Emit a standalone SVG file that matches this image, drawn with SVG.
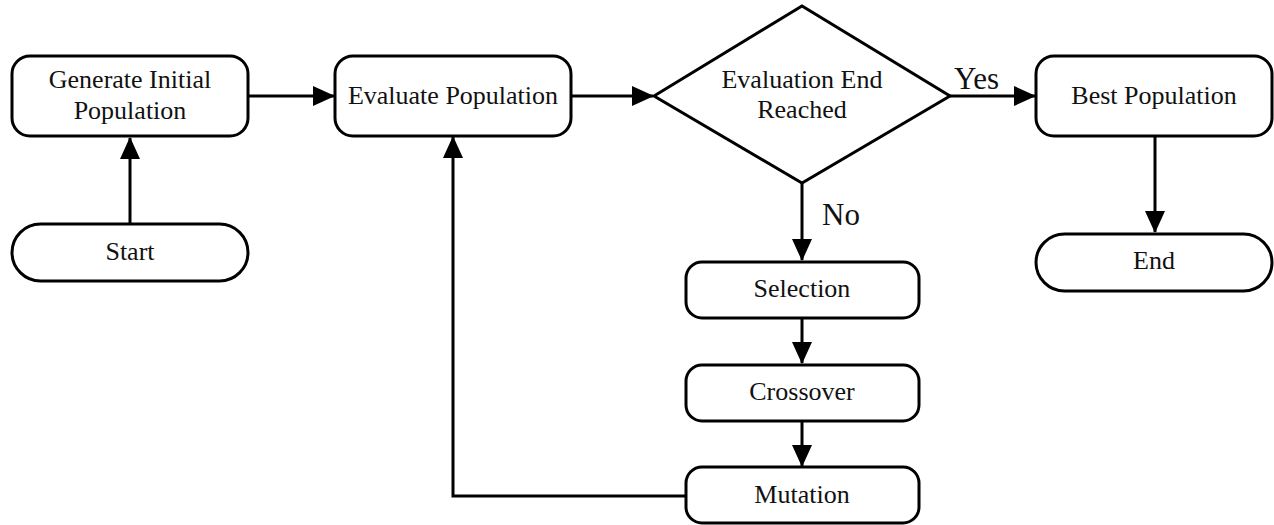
<svg xmlns="http://www.w3.org/2000/svg" width="1274" height="525" viewBox="0 0 1274 525">
<style>
.box{fill:#fff;stroke:#000;stroke-width:3}
.t{font-family:'Liberation Serif','DejaVu Serif',serif;font-size:26px;fill:#111;text-anchor:middle}
.lbl{font-family:'Liberation Serif','DejaVu Serif',serif;font-size:31px;fill:#111}
.c{fill:none;stroke:#000;stroke-width:3}
</style>
<defs>
<marker id="ah" markerUnits="userSpaceOnUse" markerWidth="22" markerHeight="20" refX="21" refY="10" orient="auto">
<path d="M0,0 L22,10 L0,20 Z" fill="#000"/>
</marker>
</defs>
<rect width="1274" height="525" fill="#fff"/>
<g id="connectors">
<path class="c" d="M130,223 V138" marker-end="url(#ah)"/>
<path class="c" d="M248,96 H334" marker-end="url(#ah)"/>
<path class="c" d="M571,96 H653" marker-end="url(#ah)"/>
<path class="c" d="M950,96 H1035" marker-end="url(#ah)"/>
<path class="c" d="M1155,136 V232" marker-end="url(#ah)"/>
<path class="c" d="M802,183 V260" marker-end="url(#ah)"/>
<path class="c" d="M802,318 V363" marker-end="url(#ah)"/>
<path class="c" d="M802,421 V466" marker-end="url(#ah)"/>
<path class="c" d="M686,496 H453 V137" marker-end="url(#ah)"/>
<text class="lbl" x="954" y="89">Yes</text>
<text class="lbl" x="822" y="225">No</text>
</g>
<g id="gen">
<rect class="box" x="12" y="56" width="236" height="80" rx="18"/>
<text class="t" x="130" y="88">Generate Initial</text>
<text class="t" x="130" y="119">Population</text>
</g>
<g id="start">
<rect class="box" x="12" y="224" width="236" height="57" rx="28.5"/>
<text class="t" x="130" y="260">Start</text>
</g>
<g id="eval">
<rect class="box" x="335" y="56" width="236" height="80" rx="18"/>
<text class="t" x="453" y="104">Evaluate Population</text>
</g>
<g id="decision">
<polygon class="box" points="654,96 802,6 950,96 802,183"/>
<text class="t" x="802" y="88">Evaluation End</text>
<text class="t" x="802" y="118">Reached</text>
</g>
<g id="best">
<rect class="box" x="1036" y="56" width="236" height="80" rx="18"/>
<text class="t" x="1154" y="104">Best Population</text>
</g>
<g id="end">
<rect class="box" x="1036" y="234" width="236" height="57" rx="28.5"/>
<text class="t" x="1154" y="269">End</text>
</g>
<g id="selection">
<rect class="box" x="686" y="262" width="233" height="56" rx="16"/>
<text class="t" x="802" y="297">Selection</text>
</g>
<g id="crossover">
<rect class="box" x="686" y="365" width="233" height="56" rx="16"/>
<text class="t" x="802" y="400">Crossover</text>
</g>
<g id="mutation">
<rect class="box" x="686" y="467" width="233" height="56" rx="16"/>
<text class="t" x="802" y="503">Mutation</text>
</g>
</svg>
